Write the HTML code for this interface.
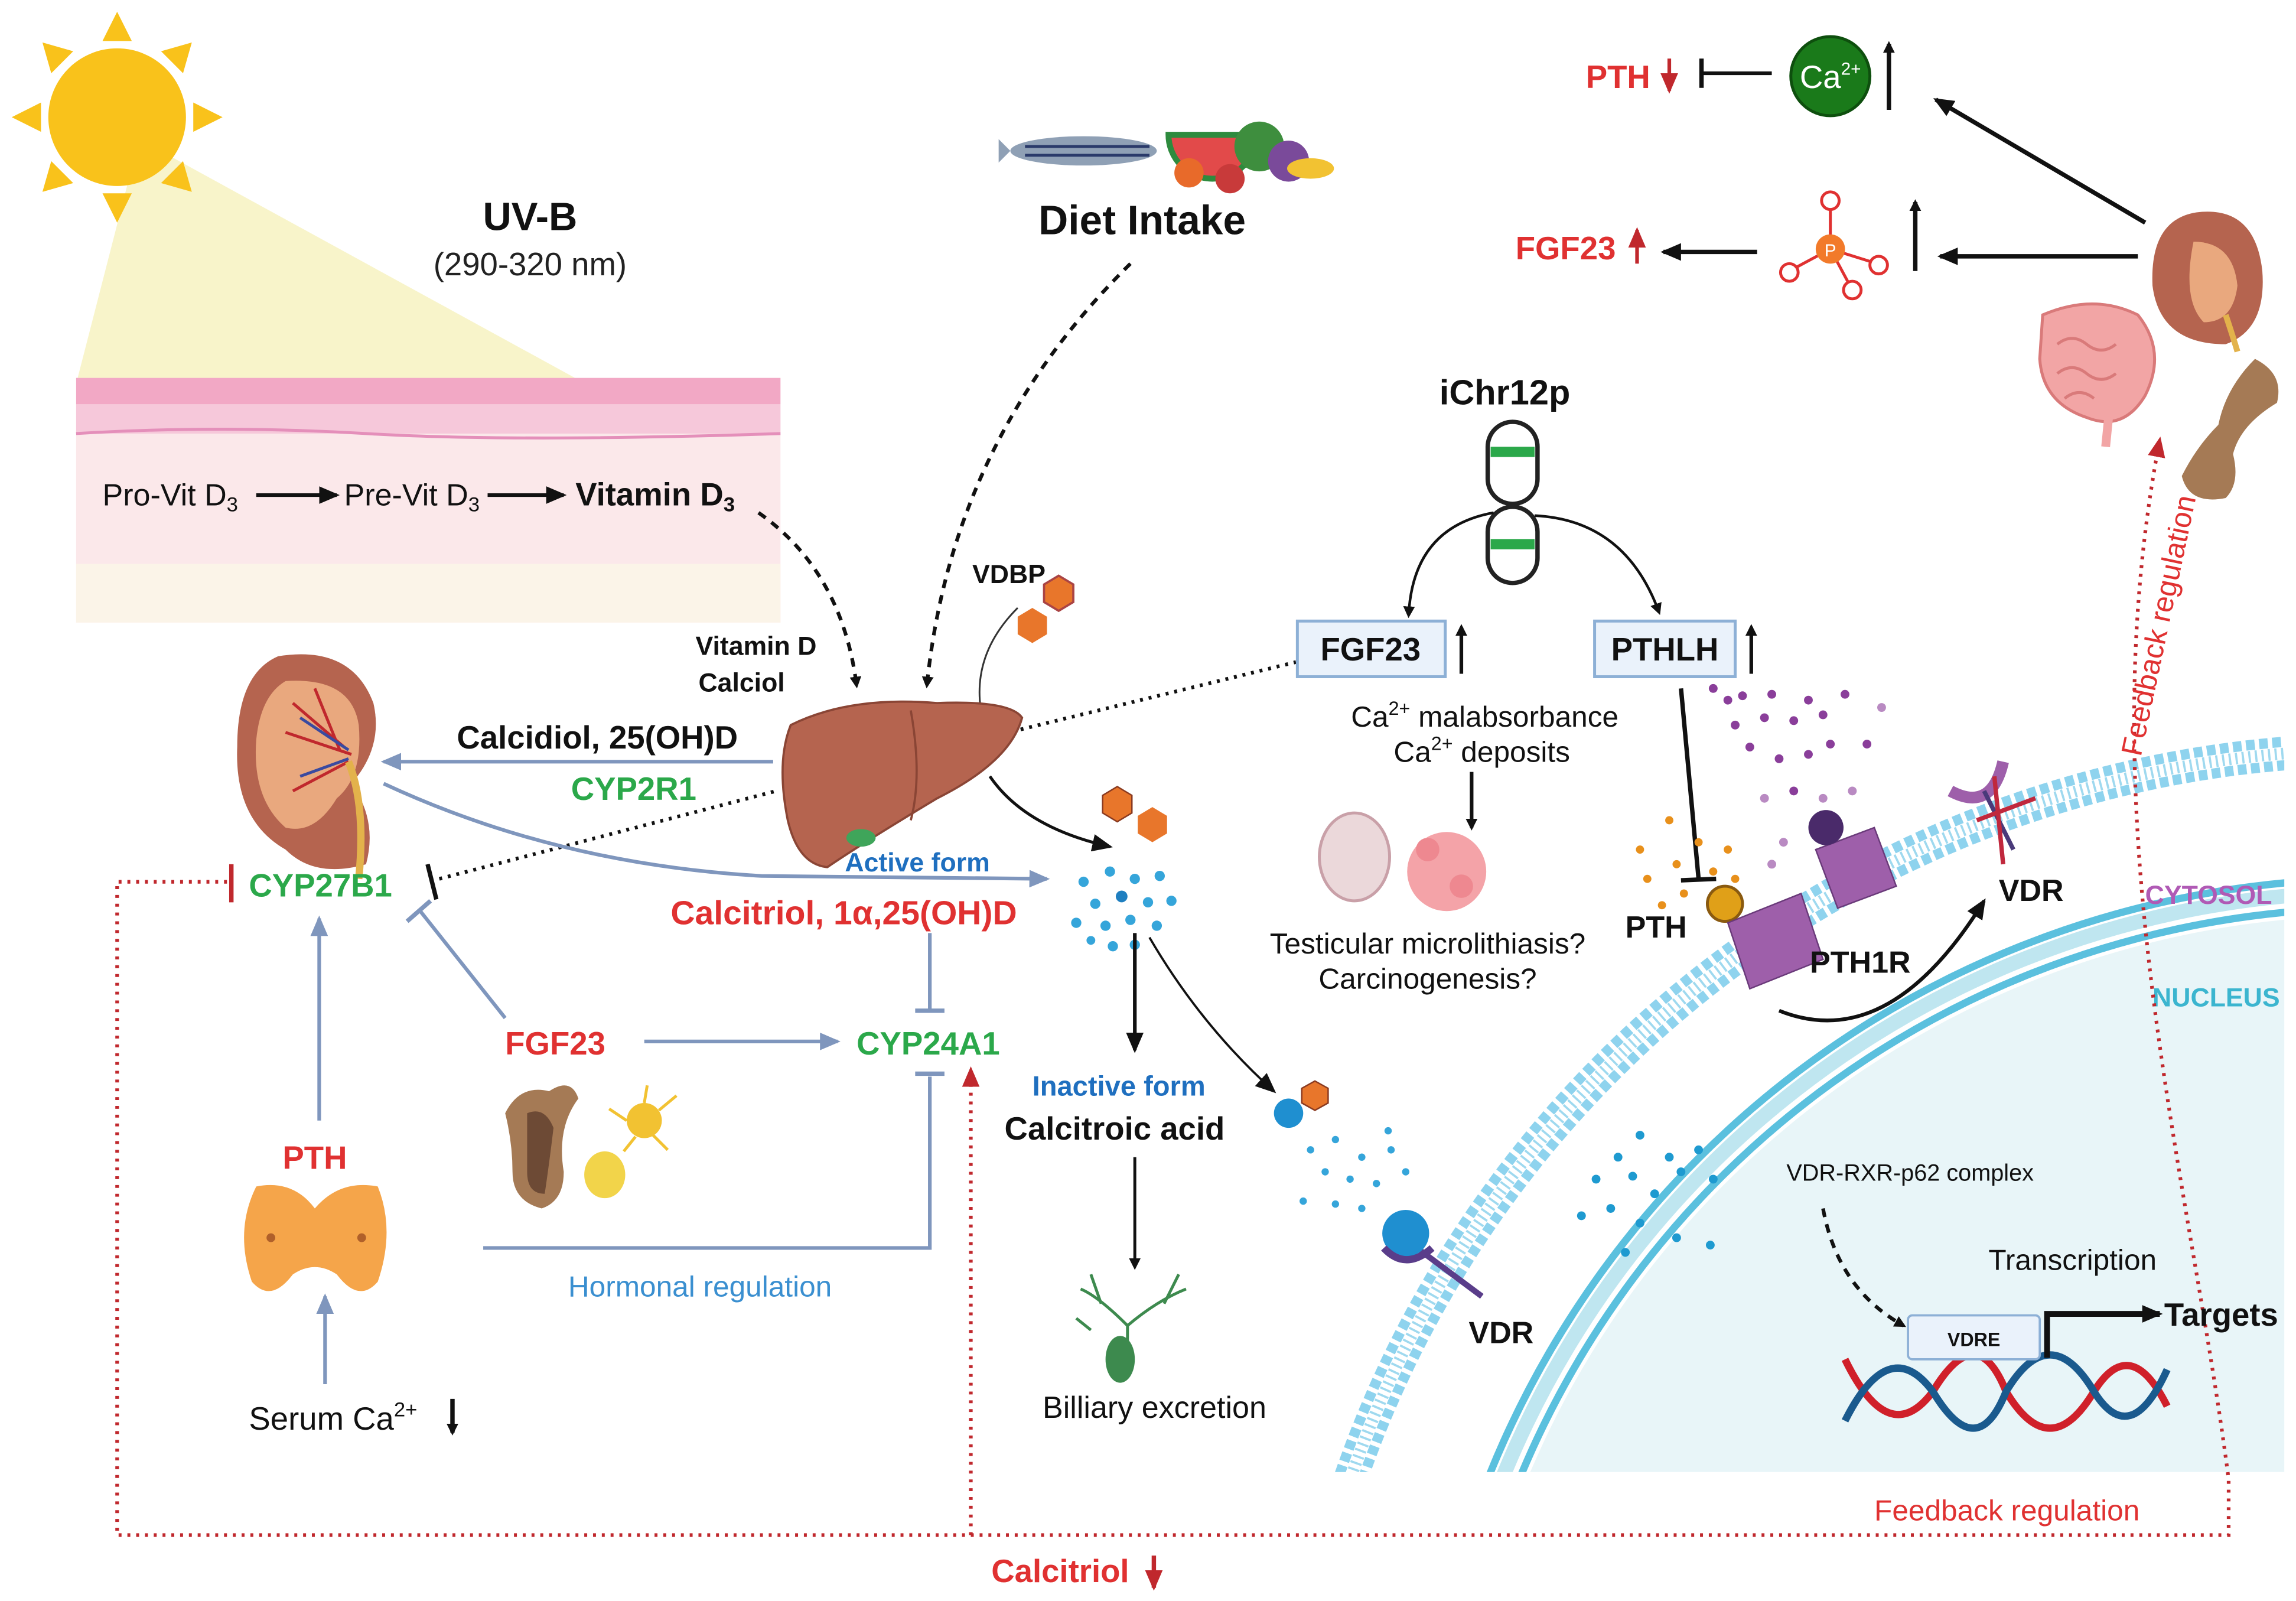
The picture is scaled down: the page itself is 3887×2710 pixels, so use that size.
<!DOCTYPE html>
<html><head><meta charset="utf-8"><style>
html,body{margin:0;padding:0;background:#fff;width:3887px;height:2710px;overflow:hidden}
svg{display:block;position:absolute;left:0;top:0}
text{font-family:"Liberation Sans",Arial,sans-serif}
.b{font-weight:bold}
</style></head><body>
<svg width="3887" height="2710" viewBox="0 0 1568 1093" preserveAspectRatio="none" xmlns="http://www.w3.org/2000/svg">
<defs>
<marker id="ab" markerWidth="8" markerHeight="8" refX="6" refY="4" orient="auto" markerUnits="userSpaceOnUse"><path d="M0,0 L8,4 L0,8 z" fill="#111"/></marker>
<marker id="abL" markerWidth="14" markerHeight="12" refX="12" refY="6" orient="auto" markerUnits="userSpaceOnUse"><path d="M0,0 L14,6 L0,12 z" fill="#111"/></marker>
<marker id="ag" markerWidth="14" markerHeight="12" refX="12" refY="6" orient="auto" markerUnits="userSpaceOnUse"><path d="M0,0 L14,6 L0,12 z" fill="#7F96BD"/></marker>
<marker id="ar" markerWidth="14" markerHeight="12" refX="12" refY="6" orient="auto" markerUnits="userSpaceOnUse"><path d="M0,0 L14,6 L0,12 z" fill="#C0282D"/></marker>
<clipPath id="cell"><rect x="0" y="0" width="1560" height="1005"/></clipPath>
</defs>

<polygon points="95,95 52,262 400,262" fill="#F7F3C4" opacity="0.9"/>
<g fill="#F9C21B">
<polygon points="80,8 70,28 90,28"/><polygon points="80,152 70,132 90,132"/>
<polygon points="8,80 28,70 28,90"/><polygon points="152,80 132,70 132,90"/>
<polygon points="29,29 35,50 50,35"/><polygon points="131,29 110,35 125,50"/>
<polygon points="29,131 35,110 50,125"/><polygon points="131,131 110,125 125,110"/>
</g>
<circle cx="80" cy="80" r="47" fill="#F9C21B"/>
<text x="362" y="157" class="b" font-size="27" text-anchor="middle" fill="#111">UV-B</text>
<text x="362" y="188" font-size="22" text-anchor="middle" fill="#222">(290-320 nm)</text>

<rect x="52" y="258" width="481" height="167" fill="#FBE8EA"/>
<rect x="52" y="258" width="481" height="18" fill="#F2A8C5"/>
<rect x="52" y="276" width="481" height="20" fill="#F6C8DA"/>
<path d="M52,296 Q150,290 250,296 T533,296" stroke="#E48FBA" stroke-width="2" fill="none"/>
<rect x="52" y="385" width="481" height="40" fill="#FBF4E8"/>
<text x="70" y="345" font-size="21" fill="#111">Pro-Vit D<tspan font-size="14" dy="4">3</tspan></text>
<line x1="175" y1="338" x2="230" y2="338" stroke="#111" stroke-width="2.5" marker-end="url(#abL)"/>
<text x="235" y="345" font-size="21" fill="#111">Pre-Vit D<tspan font-size="14" dy="4">3</tspan></text>
<line x1="333" y1="338" x2="385" y2="338" stroke="#111" stroke-width="2.5" marker-end="url(#abL)"/>
<text x="393" y="345" font-size="22" class="b" fill="#111">Vitamin D<tspan font-size="14" dy="4">3</tspan></text>
<path d="M518,350 Q575,390 585,468" stroke="#111" stroke-width="2.5" stroke-dasharray="6,5" fill="none" marker-end="url(#ab)"/>

<ellipse cx="740" cy="103" rx="50" ry="10" fill="#8FA0B5"/>
<path d="M690,103 l-8,-8 l0,16 z" fill="#8FA0B5"/>
<line x1="700" y1="100" x2="785" y2="100" stroke="#2A3A6A" stroke-width="2"/>
<line x1="700" y1="106" x2="785" y2="106" stroke="#2A3A6A" stroke-width="2"/>
<path d="M798,92 A30,30 0 0 0 858,92 z" fill="#E24A4A" stroke="#2E8B3E" stroke-width="4"/>
<circle cx="860" cy="100" r="17" fill="#3E8E3E"/>
<circle cx="880" cy="110" r="14" fill="#7A4A9A"/>
<ellipse cx="895" cy="115" rx="16" ry="7" fill="#F2C232"/>
<circle cx="812" cy="118" r="10" fill="#E86A2A"/>
<circle cx="840" cy="122" r="10" fill="#C83A3A"/>
<text x="780" y="160" text-anchor="middle" class="b" font-size="28" fill="#111">Diet Intake</text>
<path d="M772,180 Q650,300 633,468" stroke="#111" stroke-width="2.5" stroke-dasharray="6,5" fill="none" marker-end="url(#ab)"/>

<text x="475" y="447" class="b" font-size="18" fill="#111">Vitamin D</text>
<text x="477" y="472" class="b" font-size="18" fill="#111">Calciol</text>
<text x="664" y="398" class="b" font-size="18" fill="#111">VDBP</text>
<polygon points="723,393 733,399 733,411 723,417 713,411 713,399" fill="#E8762B" stroke="#A44" stroke-width="1.5"/>
<polygon points="705,415 715,421 715,433 705,439 695,433 695,421" fill="#E8762B"/>
<path d="M695,415 Q660,450 672,495" stroke="#333" stroke-width="1.2" fill="none"/>

<path d="M540,495 Q580,475 640,480 Q690,478 698,490 Q690,520 640,545 Q590,575 565,592 Q545,590 538,560 Q530,520 540,495 z" fill="#B5644F" stroke="#8A4535" stroke-width="1.5"/>
<path d="M622,485 Q630,530 622,560" stroke="#8A4535" stroke-width="1.5" fill="none"/>
<ellipse cx="588" cy="572" rx="10" ry="6" fill="#3FA55A"/>

<path d="M190,448 Q240,440 255,480 Q262,510 240,535 Q258,560 250,590 Q215,600 195,580 Q160,560 162,510 Q162,460 190,448 z" fill="#B5644F"/>
<path d="M195,465 Q240,462 245,495 Q248,530 230,545 Q215,570 195,565 Q172,545 175,505 Q178,475 195,465 z" fill="#E9A87E"/>
<path d="M200,480 L235,510 M195,500 L240,515 M200,540 L238,520 M215,470 L232,512" stroke="#C0282D" stroke-width="2"/>
<path d="M205,490 L238,512 M205,530 L238,518" stroke="#3A4AA0" stroke-width="2"/>
<path d="M238,520 Q250,550 245,600" stroke="#E3B24B" stroke-width="5" fill="none"/>

<line x1="528" y1="520" x2="262" y2="520" stroke="#7F96BD" stroke-width="2.5" marker-end="url(#ag)"/>
<text x="312" y="511" class="b" font-size="22" fill="#111">Calcidiol, 25(OH)D</text>
<text x="390" y="546" class="b" font-size="22" fill="#2BA84A">CYP2R1</text>

<line x1="300" y1="600" x2="530" y2="540" stroke="#111" stroke-width="2.5" stroke-dasharray="2,4"/>
<line x1="697" y1="498" x2="885" y2="452" stroke="#111" stroke-width="2.5" stroke-dasharray="2,4"/>

<text x="170" y="612" class="b" font-size="22" fill="#2BA84A">CYP27B1</text>
<line x1="158" y1="590" x2="158" y2="616" stroke="#C0282D" stroke-width="3"/>
<line x1="292" y1="590" x2="298" y2="614" stroke="#111" stroke-width="3"/>

<path d="M262,535 Q380,590 520,598 L715,600" stroke="#7F96BD" stroke-width="2.5" fill="none" marker-end="url(#ag)"/>
<text x="577" y="595" class="b" font-size="18" fill="#1F6FBF">Active form</text>
<text x="458" y="631" class="b" font-size="23" fill="#E03131">Calcitriol, 1α,25(OH)D</text>

<path d="M676,530 Q700,565 758,578" stroke="#111" stroke-width="2" fill="none" marker-end="url(#abL)"/>
<polygon points="763,537 773,543 773,555 763,561 753,555 753,543" fill="#E8762B" stroke="#8A3A20" stroke-width="1"/>
<polygon points="787,551 797,557 797,569 787,575 777,569 777,557" fill="#E8762B"/>
<g fill="#35A5DA">
<circle cx="740" cy="602" r="3.5"/><circle cx="758" cy="595" r="3.5"/><circle cx="775" cy="600" r="3.5"/><circle cx="792" cy="598" r="3.5"/>
<circle cx="748" cy="617" r="3.5"/><circle cx="766" cy="612" r="4" fill="#1F7FC0"/><circle cx="784" cy="616" r="3.5"/><circle cx="800" cy="615" r="3.5"/>
<circle cx="735" cy="630" r="3.5"/><circle cx="755" cy="632" r="3.5"/><circle cx="772" cy="628" r="3.5"/><circle cx="790" cy="632" r="3.5"/>
<circle cx="760" cy="646" r="3.5"/><circle cx="775" cy="645" r="3.5"/><circle cx="745" cy="642" r="3"/>
</g>

<line x1="635" y1="637" x2="635" y2="690" stroke="#7F96BD" stroke-width="2.5"/>
<line x1="625" y1="690" x2="645" y2="690" stroke="#7F96BD" stroke-width="3"/>
<text x="585" y="720" class="b" font-size="22" fill="#2BA84A">CYP24A1</text>
<text x="345" y="720" class="b" font-size="22" fill="#E03131">FGF23</text>
<line x1="440" y1="711" x2="572" y2="711" stroke="#7F96BD" stroke-width="2.5" marker-end="url(#ag)"/>
<line x1="345" y1="695" x2="287" y2="622" stroke="#7F96BD" stroke-width="2.5"/>
<line x1="278" y1="629" x2="294" y2="615" stroke="#7F96BD" stroke-width="3"/>

<path d="M345,760 Q355,740 375,745 Q390,735 395,750 Q380,770 385,800 Q385,820 370,825 Q350,820 350,800 Q350,780 345,760 z" fill="#A57A55"/>
<path d="M360,760 Q372,755 378,770 Q375,795 372,815 Q360,815 360,800 z" fill="#6D4A35"/>
<circle cx="440" cy="765" r="12" fill="#F2C232"/>
<path d="M428,765 l-12,-8 M450,758 l12,-10 M440,753 l2,-12 M446,775 l10,10 M434,776 l-8,10" stroke="#F2C232" stroke-width="2"/>
<ellipse cx="413" cy="802" rx="14" ry="16" fill="#F2D44A"/>

<text x="193" y="798" class="b" font-size="22" fill="#E03131">PTH</text>
<line x1="218" y1="765" x2="218" y2="627" stroke="#7F96BD" stroke-width="2.5" marker-end="url(#ag)"/>
<path d="M175,810 Q200,805 215,825 Q232,805 258,810 Q270,840 258,875 Q245,890 230,870 Q215,860 200,870 Q185,890 172,875 Q160,840 175,810 z" fill="#F5A54A"/>
<circle cx="185" cy="845" r="3" fill="#B0602A"/><circle cx="247" cy="845" r="3" fill="#B0602A"/>
<line x1="222" y1="945" x2="222" y2="885" stroke="#7F96BD" stroke-width="2.5" marker-end="url(#ag)"/>
<text x="170" y="976" font-size="22" fill="#111">Serum Ca<tspan font-size="14" dy="-9">2+</tspan></text>
<line x1="309" y1="955" x2="309" y2="978" stroke="#111" stroke-width="3" marker-end="url(#ab)"/>

<path d="M330,852 L635,852 L635,735" stroke="#7F96BD" stroke-width="2.5" fill="none"/>
<line x1="625" y1="733" x2="645" y2="733" stroke="#7F96BD" stroke-width="3"/>
<text x="388" y="885" font-size="20" fill="#3A8FD0">Hormonal regulation</text>

<text x="677" y="1080" class="b" font-size="22" fill="#E03131">Calcitriol</text>
<line x1="788" y1="1062" x2="788" y2="1084" stroke="#C0282D" stroke-width="3" marker-end="url(#ar)"/>
<text x="1280" y="1038" font-size="20" fill="#E03131">Feedback regulation</text>

<line x1="775" y1="637" x2="775" y2="717" stroke="#111" stroke-width="2.5" marker-end="url(#abL)"/>
<text x="705" y="748" class="b" font-size="19" fill="#1F6FBF">Inactive form</text>
<text x="686" y="778" class="b" font-size="22" fill="#111">Calcitroic acid</text>
<line x1="775" y1="790" x2="775" y2="865" stroke="#111" stroke-width="2" marker-end="url(#ab)"/>
<path d="M770,940 L770,905 M770,905 Q750,885 738,880 M770,905 Q790,888 810,880 M752,890 L745,870 M795,890 L805,870 M735,900 L745,908" stroke="#3D8A4E" stroke-width="2" fill="none"/>
<ellipse cx="765" cy="928" rx="10" ry="16" fill="#3D8A4E"/>
<text x="712" y="968" font-size="21" fill="#111">Billiary excretion</text>

<g clip-path="url(#cell)">
<circle cx="1620" cy="1250" r="625" fill="#E8F5F8"/>
<circle cx="1620" cy="1250" r="630" fill="none" stroke="#5BC0DE" stroke-width="5"/>
<circle cx="1620" cy="1250" r="641" fill="none" stroke="#BFE6F0" stroke-width="10"/>
<circle cx="1620" cy="1250" r="650" fill="none" stroke="#5BC0DE" stroke-width="5"/>
<circle cx="1620" cy="1250" r="746" fill="none" stroke="#8ED3EE" stroke-width="7" stroke-dasharray="6,3"/>
<circle cx="1620" cy="1250" r="738" fill="none" stroke="#9FD9EF" stroke-width="8" stroke-dasharray="1.5,3"/>
<circle cx="1620" cy="1250" r="730" fill="none" stroke="#8ED3EE" stroke-width="7" stroke-dasharray="6,3"/>
</g>
<text x="1465" y="617" class="b" font-size="18" fill="#B05AB5">CYTOSOL</text>
<text x="1470" y="687" class="b" font-size="18" fill="#3BB5CF">NUCLEUS</text>

<!-- red feedback dotted -->
<path d="M155,602 L80,602 L80,1048 L1522,1048 L1522,1010 C1495,800 1425,560 1475,300" stroke="#C0282D" stroke-width="2.5" stroke-dasharray="2,4" fill="none" marker-end="url(#ar)"/>
<path d="M663,1048 L663,730" stroke="#C0282D" stroke-width="2.5" stroke-dasharray="2,4" fill="none" marker-end="url(#ar)"/>
<text x="0" y="0" font-size="20" fill="#E03131" transform="translate(1462,517) rotate(-78)">Feedback regulation</text>

<path d="M785,640 Q820,700 870,745" stroke="#111" stroke-width="1.5" fill="none" marker-end="url(#abL)"/>
<circle cx="880" cy="760" r="10" fill="#1F8FD0"/>
<polygon points="898,738 907,743 907,753 898,758 889,753 889,743" fill="#E8762B" stroke="#8A3A20"/>
<g fill="#35A5DA">
<circle cx="895" cy="785" r="2.5"/><circle cx="912" cy="778" r="2.5"/><circle cx="930" cy="790" r="2.5"/><circle cx="950" cy="785" r="2.5"/>
<circle cx="905" cy="800" r="2.5"/><circle cx="922" cy="805" r="2.5"/><circle cx="940" cy="808" r="2.5"/><circle cx="960" cy="800" r="2.5"/>
<circle cx="890" cy="820" r="2.5"/><circle cx="912" cy="822" r="2.5"/><circle cx="930" cy="825" r="2.5"/><circle cx="948" cy="772" r="2.5"/>
</g>
<line x1="965" y1="850" x2="1012" y2="885" stroke="#5A3D8A" stroke-width="4"/>
<circle cx="960" cy="842" r="16" fill="#1F8FD0"/>
<path d="M945,852 Q960,868 978,852" stroke="#5A3D8A" stroke-width="5" fill="none"/>
<text x="1003" y="917" class="b" font-size="21" fill="#111">VDR</text>

<text x="983" y="276" class="b" font-size="24" fill="#111">iChr12p</text>
<rect x="1016" y="288" width="34" height="56" rx="17" fill="#fff" stroke="#222" stroke-width="3"/>
<rect x="1016" y="346" width="34" height="52" rx="17" fill="#fff" stroke="#222" stroke-width="3"/>
<rect x="1018" y="305" width="30" height="7" fill="#2BA84A"/>
<rect x="1018" y="368" width="30" height="7" fill="#2BA84A"/>
<path d="M1020,350 Q965,360 962,420" stroke="#111" stroke-width="1.8" fill="none" marker-end="url(#ab)"/>
<path d="M1048,352 Q1110,355 1133,418" stroke="#111" stroke-width="1.8" fill="none" marker-end="url(#ab)"/>
<rect x="886" y="424" width="101" height="38" fill="#EAF2FB" stroke="#8DB0D6" stroke-width="2"/>
<text x="936" y="451" text-anchor="middle" class="b" font-size="22" fill="#111">FGF23</text>
<line x1="998" y1="460" x2="998" y2="428" stroke="#111" stroke-width="2.5" marker-end="url(#ab)"/>
<rect x="1089" y="424" width="96" height="38" fill="#EAF2FB" stroke="#8DB0D6" stroke-width="2"/>
<text x="1137" y="451" text-anchor="middle" class="b" font-size="22" fill="#111">PTHLH</text>
<line x1="1196" y1="460" x2="1196" y2="428" stroke="#111" stroke-width="2.5" marker-end="url(#ab)"/>
<text x="1014" y="496" text-anchor="middle" font-size="20" fill="#111">Ca<tspan font-size="13" dy="-8">2+</tspan><tspan dy="8"> malabsorbance</tspan></text>
<text x="1012" y="520" text-anchor="middle" font-size="20" fill="#111">Ca<tspan font-size="13" dy="-8">2+</tspan><tspan dy="8"> deposits</tspan></text>
<line x1="1005" y1="527" x2="1005" y2="565" stroke="#111" stroke-width="2.5" marker-end="url(#ab)"/>
<ellipse cx="925" cy="585" rx="24" ry="30" fill="#EBD8DA" stroke="#C9A0A8" stroke-width="2"/>
<circle cx="988" cy="595" r="27" fill="#F4A3A8"/>
<circle cx="975" cy="580" r="8" fill="#EE8890"/><circle cx="998" cy="605" r="8" fill="#EE8890"/>
<text x="975" y="651" text-anchor="middle" font-size="20" fill="#111">Testicular microlithiasis?</text>
<text x="975" y="675" text-anchor="middle" font-size="20" fill="#111">Carcinogenesis?</text>

<line x1="1148" y1="470" x2="1160" y2="600" stroke="#111" stroke-width="3"/>
<line x1="1148" y1="601" x2="1172" y2="600" stroke="#111" stroke-width="3"/>
<g fill="#8A3E9A">
<circle cx="1170" cy="470" r="3"/><circle cx="1180" cy="478" r="3"/><circle cx="1190" cy="475" r="3"/><circle cx="1210" cy="474" r="3"/><circle cx="1235" cy="478" r="3"/><circle cx="1260" cy="474" r="3"/>
<circle cx="1185" cy="495" r="3"/><circle cx="1205" cy="490" r="3"/><circle cx="1225" cy="492" r="3"/><circle cx="1245" cy="488" r="3"/><circle cx="1250" cy="508" r="3"/><circle cx="1275" cy="508" r="3"/>
<circle cx="1195" cy="510" r="3"/><circle cx="1215" cy="518" r="3"/><circle cx="1235" cy="515" r="3"/><circle cx="1225" cy="540" r="3"/><circle cx="1245" cy="545" r="3" fill="#B98AC2"/><circle cx="1205" cy="545" r="3" fill="#B98AC2"/><circle cx="1265" cy="540" r="3" fill="#B98AC2"/>
<circle cx="1218" cy="575" r="3" fill="#B98AC2"/><circle cx="1210" cy="590" r="3" fill="#B98AC2"/><circle cx="1285" cy="483" r="3" fill="#B98AC2"/>
</g>
<g fill="#E8901B">
<circle cx="1140" cy="560" r="2.8"/><circle cx="1160" cy="575" r="2.8"/><circle cx="1180" cy="580" r="2.8"/><circle cx="1120" cy="580" r="2.8"/>
<circle cx="1145" cy="590" r="2.8"/><circle cx="1170" cy="595" r="2.8"/><circle cx="1125" cy="600" r="2.8"/><circle cx="1150" cy="610" r="2.8"/><circle cx="1185" cy="600" r="2.8"/><circle cx="1135" cy="618" r="2.8"/>
</g>
<text x="1110" y="640" class="b" font-size="21" fill="#111">PTH</text>
<circle cx="1178" cy="617" r="12" fill="#E0A018" stroke="#8A5A10" stroke-width="2"/>
<g fill="#9E5FAA" stroke="#6A3A7A" stroke-width="1">
<polygon points="1180,630 1230,610 1245,655 1195,675"/>
<polygon points="1240,580 1280,565 1295,605 1255,620"/>
</g>
<circle cx="1247" cy="565" r="12" fill="#4A2A6A"/>
<text x="1236" y="664" class="b" font-size="21" fill="#111">PTH1R</text>
<path d="M1215,690 Q1290,720 1355,615" stroke="#111" stroke-width="2.5" fill="none" marker-end="url(#abL)"/>
<path d="M1332,540 Q1360,555 1368,520" stroke="#9E5FAA" stroke-width="8" fill="none"/>
<line x1="1355" y1="540" x2="1375" y2="580" stroke="#4A3A7A" stroke-width="3"/>
<line x1="1350" y1="560" x2="1390" y2="545" stroke="#C0283D" stroke-width="3"/>
<line x1="1362" y1="530" x2="1368" y2="590" stroke="#C0283D" stroke-width="3"/>
<text x="1365" y="615" class="b" font-size="21" fill="#111">VDR</text>

<g fill="#1E9AD0">
<circle cx="1105" cy="790" r="3"/><circle cx="1120" cy="775" r="3"/><circle cx="1140" cy="790" r="3"/><circle cx="1160" cy="785" r="3"/>
<circle cx="1090" cy="805" r="3"/><circle cx="1115" cy="803" r="3"/><circle cx="1130" cy="815" r="3"/><circle cx="1148" cy="800" r="3"/><circle cx="1170" cy="805" r="3"/>
<circle cx="1080" cy="830" r="3"/><circle cx="1100" cy="825" r="3"/><circle cx="1120" cy="835" r="3"/><circle cx="1145" cy="845" r="3"/><circle cx="1110" cy="855" r="3"/><circle cx="1168" cy="850" r="3"/>
</g>
<text x="1220" y="806" font-size="16" fill="#111">VDR-RXR-p62 complex</text>
<path d="M1245,825 Q1255,880 1300,905" stroke="#111" stroke-width="2.5" stroke-dasharray="6,5" fill="none" marker-end="url(#ab)"/>
<text x="1358" y="867" font-size="20" fill="#111">Transcription</text>
<path d="M1260,928 Q1290,990 1320,950 Q1350,900 1370,950 Q1400,1000 1430,950 Q1455,910 1480,960" stroke="#D0202A" stroke-width="5" fill="none"/>
<path d="M1260,970 Q1290,910 1320,950 Q1350,1000 1370,950 Q1400,900 1430,950 Q1455,990 1480,935" stroke="#1A5A8E" stroke-width="5" fill="none"/>
<rect x="1303" y="898" width="90" height="30" rx="3" fill="#EAF2FB" stroke="#8DB0D6" stroke-width="1.5"/>
<text x="1348" y="919" text-anchor="middle" class="b" font-size="13" fill="#111">VDRE</text>
<path d="M1398,927 L1398,897 L1475,897" stroke="#111" stroke-width="4" fill="none" marker-end="url(#abL)"/>
<text x="1478" y="905" class="b" font-size="22" fill="#111">Targets</text>

<text x="1083" y="60" class="b" font-size="22" fill="#E03131">PTH</text>
<line x1="1140" y1="40" x2="1140" y2="62" stroke="#C0282D" stroke-width="2.5" marker-end="url(#ar)"/>
<line x1="1162" y1="50" x2="1210" y2="50" stroke="#111" stroke-width="2.5"/>
<line x1="1162" y1="40" x2="1162" y2="60" stroke="#111" stroke-width="3"/>
<circle cx="1250" cy="52" r="27" fill="#1A7A1A" stroke="#0E4F0E" stroke-width="2"/>
<text x="1250" y="60" text-anchor="middle" font-size="22" fill="#fff">Ca<tspan font-size="12" dy="-9">2+</tspan></text>
<line x1="1290" y1="75" x2="1290" y2="30" stroke="#111" stroke-width="3" marker-end="url(#ab)"/>
<line x1="1465" y1="152" x2="1322" y2="68" stroke="#111" stroke-width="3" marker-end="url(#abL)"/>
<text x="1035" y="177" class="b" font-size="22" fill="#E03131">FGF23</text>
<line x1="1118" y1="180" x2="1118" y2="157" stroke="#C0282D" stroke-width="2.5" marker-end="url(#ar)"/>
<line x1="1200" y1="172" x2="1136" y2="172" stroke="#111" stroke-width="3" marker-end="url(#abL)"/>
<g stroke="#E03131" stroke-width="2" fill="#fff">
<line x1="1250" y1="170" x2="1250" y2="137"/><line x1="1250" y1="170" x2="1222" y2="185"/><line x1="1250" y1="170" x2="1282" y2="180"/><line x1="1250" y1="170" x2="1265" y2="198"/>
<circle cx="1250" cy="137" r="6"/><circle cx="1222" cy="186" r="6"/><circle cx="1283" cy="181" r="6"/><circle cx="1265" cy="198" r="6"/>
</g>
<circle cx="1250" cy="170" r="10" fill="#F27A2A"/>
<text x="1250" y="175" text-anchor="middle" font-size="12" fill="#fff">P</text>
<line x1="1308" y1="185" x2="1308" y2="138" stroke="#111" stroke-width="3" marker-end="url(#ab)"/>
<line x1="1460" y1="175" x2="1325" y2="175" stroke="#111" stroke-width="3" marker-end="url(#abL)"/>
<path d="M1500,145 Q1540,140 1545,185 Q1548,225 1520,235 Q1475,235 1470,195 Q1468,150 1500,145 z" fill="#B5644F"/>
<path d="M1498,165 Q1525,165 1528,195 Q1525,220 1505,220 Q1490,205 1498,165 z" fill="#E9A87E"/>
<path d="M1520,215 Q1525,230 1528,240" stroke="#E3B24B" stroke-width="4"/>
<path d="M1395,215 Q1430,200 1460,215 Q1480,240 1465,270 Q1450,295 1425,285 Q1395,275 1393,245 z" fill="#F2A5A5" stroke="#D97A7A" stroke-width="2"/>
<path d="M1405,235 q10,-8 20,0 t20,0 M1405,255 q10,-8 20,0 t20,0 M1410,272 q10,-8 20,0" stroke="#D97A7A" stroke-width="2" fill="none"/>
<path d="M1440,285 L1438,305" stroke="#F2A5A5" stroke-width="6"/>
<path d="M1540,245 Q1560,255 1555,275 Q1530,290 1525,310 Q1530,330 1520,340 Q1495,345 1490,325 Q1500,305 1515,290 Q1520,265 1540,245 z" fill="#A57A55"/>
</svg>
</body></html>
